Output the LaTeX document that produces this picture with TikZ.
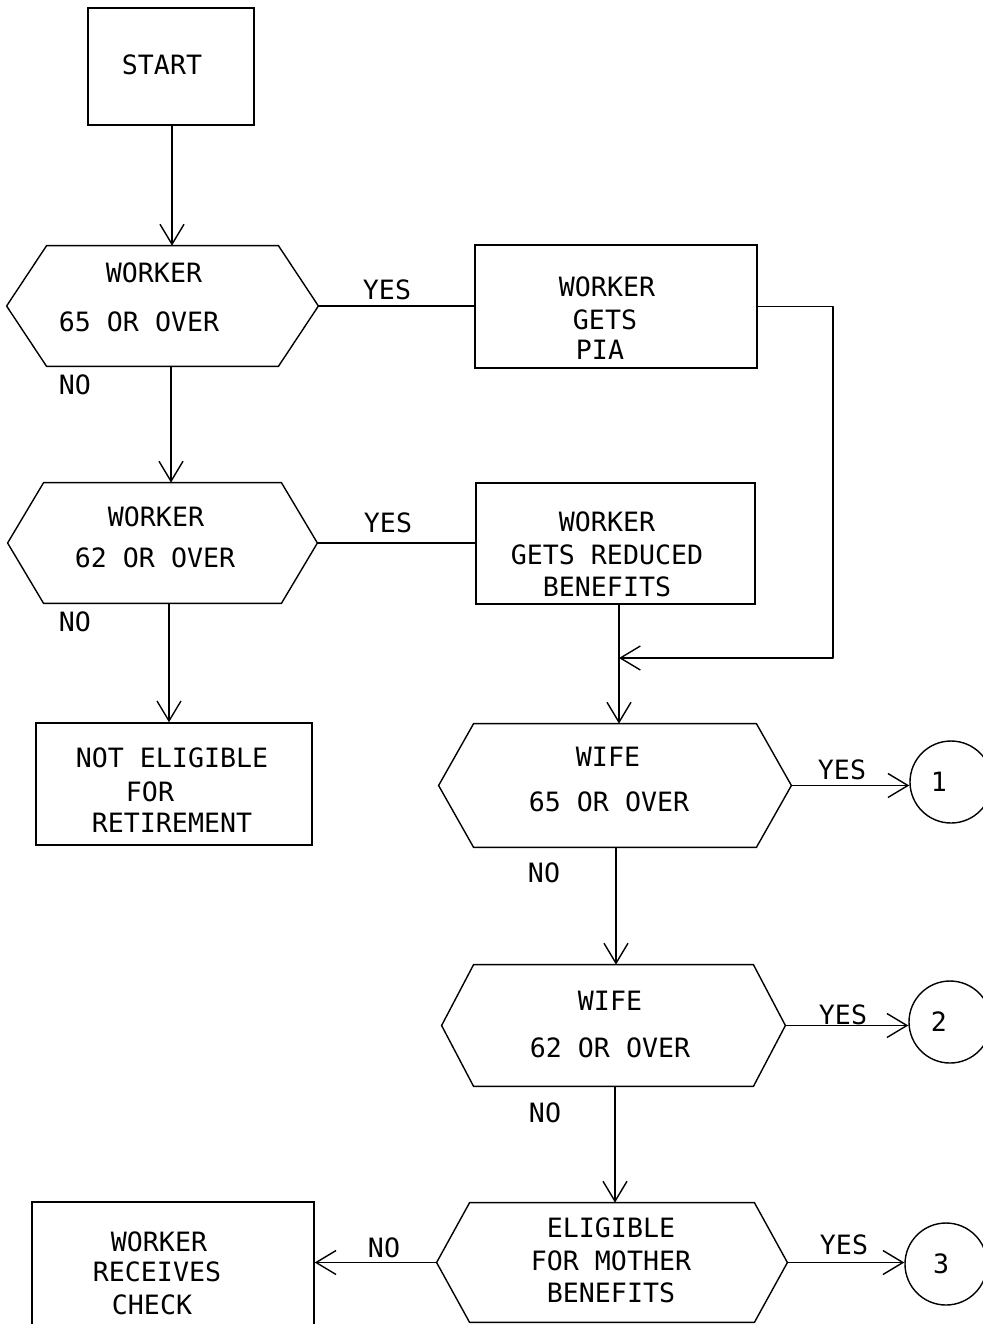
\documentclass[tikz,border=0pt]{standalone}
\usepackage{fontspec}
\setmonofont{DejaVu Sans Mono}
\usetikzlibrary{arrows.meta}
\newcommand{\drawhex}[2]{%
  \draw[ln] (#1.west) -- ([xshift=#2*0.5pt]#1.north west) -- ([xshift=-#2*0.5pt]#1.north east)
    -- (#1.east) -- ([xshift=-#2*0.5pt]#1.south east) -- ([xshift=#2*0.5pt]#1.south west) -- cycle;}
\begin{document}
\begin{tikzpicture}[x=0.5pt,y=-0.5pt,
  every node/.style={font=\ttfamily\fontsize{13.3pt}{16pt}\selectfont, inner sep=0pt},
  ln/.style={line width=0.7pt, line join=round},
  arr/.style={ln, -{Straight Barb[length=10pt,width=12pt,line width=0.7pt]}},
  rbox/.style 2 args={draw, line width=0.7pt, minimum width=#1*0.5pt, minimum height=#2*0.5pt},
  hexn/.style 2 args={minimum width=#1*0.5pt, minimum height=#2*0.5pt},
  circ/.style={draw, line width=0.7pt, circle, minimum size=41pt}]
\useasboundingbox (0,0) rectangle (982,1324);

% START
\node[rbox={166}{117}] (start) at (171,66.5) {};
\node (tstart) at (162,65) {START};

% worker 65
\node[hexn={311}{120}] (h1) at (162.5,306) {};
\drawhex{h1}{40}
\node (t1a) at (154,273) {WORKER};
\node (t1b) at (139,322) {65 OR OVER};
\node (no1) at (75,385) {NO};
\node (yes1) at (387,290) {YES};

% worker gets PIA
\node[rbox={282}{123}] (pia) at (616,306.5) {};
\node (tpa) at (607,287) {WORKER};
\node (tpb) at (605,320) {GETS};
\node (tpc) at (600,350) {PIA};

% worker 62
\node[hexn={309}{120}] (h2) at (162.5,543) {};
\drawhex{h2}{36}
\node (t2a) at (156,517) {WORKER};
\node (t2b) at (155,558) {62 OR OVER};
\node (no2) at (75,622) {NO};
\node (yes2) at (388,523) {YES};

% reduced benefits
\node[rbox={279}{121}] (red) at (615.5,543.5) {};
\node (tra) at (607,522) {WORKER};
\node (trb) at (607,555) {GETS REDUCED};
\node (trc) at (607,587) {BENEFITS};

% not eligible
\node[rbox={276}{122}] (notel) at (174,784) {};
\node (tna) at (172,758) {NOT ELIGIBLE};
\node (tnb) at (150,792) {FOR};
\node (tnc) at (172,823) {RETIREMENT};

% wife 65
\node[hexn={352}{123}] (h3) at (615,785.5) {};
\drawhex{h3}{35}
\node (t3a) at (608,757) {WIFE};
\node (t3b) at (609,802) {65 OR OVER};
\node (yes3) at (842,770) {YES};
\node (no3) at (544,873) {NO};
\node[circ] (c1) at (951,782) {};
\node (n1) at (939,782) {1};

% wife 62
\node[hexn={343}{121}] (h4) at (613.5,1025.5) {};
\drawhex{h4}{32}
\node (t4a) at (610,1001) {WIFE};
\node (t4b) at (610,1048) {62 OR OVER};
\node (yes4) at (843,1015) {YES};
\node (no4) at (545,1113) {NO};
\node[circ] (c2) at (950,1022) {};
\node (n2) at (939,1022) {2};

% mother benefits
\node[hexn={350}{119}] (h5) at (612,1262.5) {};
\drawhex{h5}{33}
\node (t5a) at (611,1228) {ELIGIBLE};
\node (t5b) at (611,1261) {FOR MOTHER};
\node (t5c) at (611,1293) {BENEFITS};
\node (yes5) at (844,1245) {YES};
\node (no5) at (384,1248) {NO};
\node[circ] (c3) at (946,1264) {};
\node (n3) at (941,1264) {3};

% worker receives check
\node[rbox={282}{124}] (check) at (173,1264) {};
\node (tca) at (159,1242) {WORKER};
\node (tcb) at (157,1272) {RECEIVES};
\node (tcc) at (152,1305) {CHECK};

% connectors
\coordinate (a1) at (172,0);
\coordinate (a2) at (171,0);
\coordinate (a3) at (169,0);
\coordinate (a4) at (619,0);
\coordinate (a5) at (616,0);
\coordinate (a6) at (615,0);
\coordinate (rt) at (833,0);
\coordinate (j) at (619,658);
\draw[arr] (start.south -| a1) -- (h1.north -| a1);
\draw[arr] (h1.south -| a2) -- (h2.north -| a2);
\draw[arr] (h2.south -| a3) -- (notel.north -| a3);
\draw[ln] (h1.east) -- (h1.east -| pia.west);
\draw[ln] (h2.east) -- (h2.east -| red.west);
\draw[arr] (red.south -| a4) -- (h3.north -| a4);
\draw[arr] (pia.east) -- (pia.east -| rt) -- (rt |- j) -- (j);
\draw[arr] (h3.south -| a5) -- (h4.north -| a5);
\draw[arr] (h4.south -| a6) -- (h5.north -| a6);
\draw[arr] (h3.east) -- (h3.east -| c1.west);
\draw[arr] (h4.east) -- (h4.east -| c2.west);
\draw[arr] (h5.east) -- (h5.east -| c3.west);
\draw[arr] (h5.west) -- (h5.west -| check.east);
\end{tikzpicture}
\end{document}
